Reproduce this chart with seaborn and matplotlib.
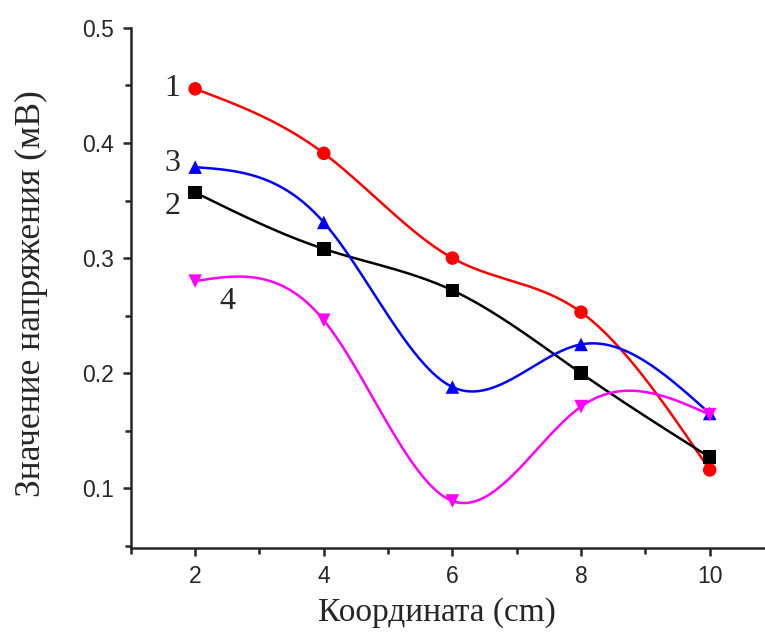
import numpy as np
import pandas as pd
import matplotlib
matplotlib.use("Agg")
import matplotlib.pyplot as plt
import seaborn as sns
from matplotlib.ticker import MultipleLocator

x = [2, 4, 6, 8, 10]
curve1 = [0.447, 0.391, 0.300, 0.253, 0.116]
curve2 = [0.357, 0.308, 0.272, 0.200, 0.127]
curve3 = [0.379, 0.331, 0.188, 0.225, 0.165]
curve4 = [0.280, 0.246, 0.089, 0.171, 0.164]
names = ["1", "2", "3", "4"]
colors = ["#ff0000", "#000000", "#0000ff", "#ff00ff"]
markers = ["o", "s", "^", "v"]


def spline(xs, ys, n=300):
    # natural cubic spline through the points
    xs = np.asarray(xs, float)
    ys = np.asarray(ys, float)
    k = len(xs)
    h = np.diff(xs)
    A = np.zeros((k, k))
    b = np.zeros(k)
    A[0, 0] = A[-1, -1] = 1
    for i in range(1, k - 1):
        A[i, i - 1] = h[i - 1]
        A[i, i] = 2 * (h[i - 1] + h[i])
        A[i, i + 1] = h[i]
        b[i] = 6 * ((ys[i + 1] - ys[i]) / h[i] - (ys[i] - ys[i - 1]) / h[i - 1])
    m = np.linalg.solve(A, b)
    xx = np.linspace(xs[0], xs[-1], n)
    idx = np.clip(np.searchsorted(xs, xx) - 1, 0, k - 2)
    x0, x1 = xs[idx], xs[idx + 1]
    hh = x1 - x0
    t0, t1 = x1 - xx, xx - x0
    yy = (m[idx] * t0**3 + m[idx + 1] * t1**3) / (6 * hh) \
        + (ys[idx] / hh - m[idx] * hh / 6) * t0 \
        + (ys[idx + 1] / hh - m[idx + 1] * hh / 6) * t1
    return xx, yy


sns.set_style("ticks")
fig = plt.figure(figsize=(7.65, 6.33), dpi=100)
ax = fig.add_axes([0.171, 0.134, 0.829, 0.822])

for name, ys, c, mk in zip(names, [curve1, curve2, curve3, curve4], colors, markers):
    xx, yy = spline(x, ys)
    sns.lineplot(x=xx, y=yy, color=c, lw=1.8, ax=ax, sort=False)
    sns.scatterplot(x=x, y=ys, color=c, marker=mk, s=95, edgecolor="none", ax=ax, zorder=3)

ax.set_xlim(1, 10.86)
ax.set_ylim(0.048, 0.5)
ax.xaxis.set_minor_locator(MultipleLocator(1))
ax.yaxis.set_minor_locator(MultipleLocator(0.05))
ax.set_xticks([2, 4, 6, 8, 10])
ax.set_yticks([0.1, 0.2, 0.3, 0.4, 0.5])
ax.set_yticklabels(["0.1", "0.2", "0.3", "0.4", "0.5"])

sns.despine(ax=ax)
for s in ["left", "bottom"]:
    ax.spines[s].set_linewidth(1.8)
ax.tick_params(which="major", direction="out", length=6, width=1.8,
               labelsize=16.5, pad=6)
ax.tick_params(which="minor", direction="out", length=4, width=1.8)
for lab in ax.get_xticklabels() + ax.get_yticklabels():
    lab.set_family("Liberation Sans")

ax.set_xlabel("Координата (cm)", family="Liberation Serif", fontsize=24)
ax.set_ylabel("Значение напряжения (мВ)", family="Liberation Serif", fontsize=25.5)
ax.xaxis.set_label_coords(0.482, -0.095)
ax.yaxis.set_label_coords(-0.13, 0.49)

lbl_font = dict(family="Liberation Serif", fontsize=23, ha="center", va="center")
ax.text(1.65, 0.447, "1", **lbl_font)
ax.text(1.65, 0.382, "3", **lbl_font)
ax.text(1.65, 0.345, "2", **lbl_font)
ax.text(2.5, 0.262, "4", **lbl_font)

fig.savefig("out.png", dpi=100)
